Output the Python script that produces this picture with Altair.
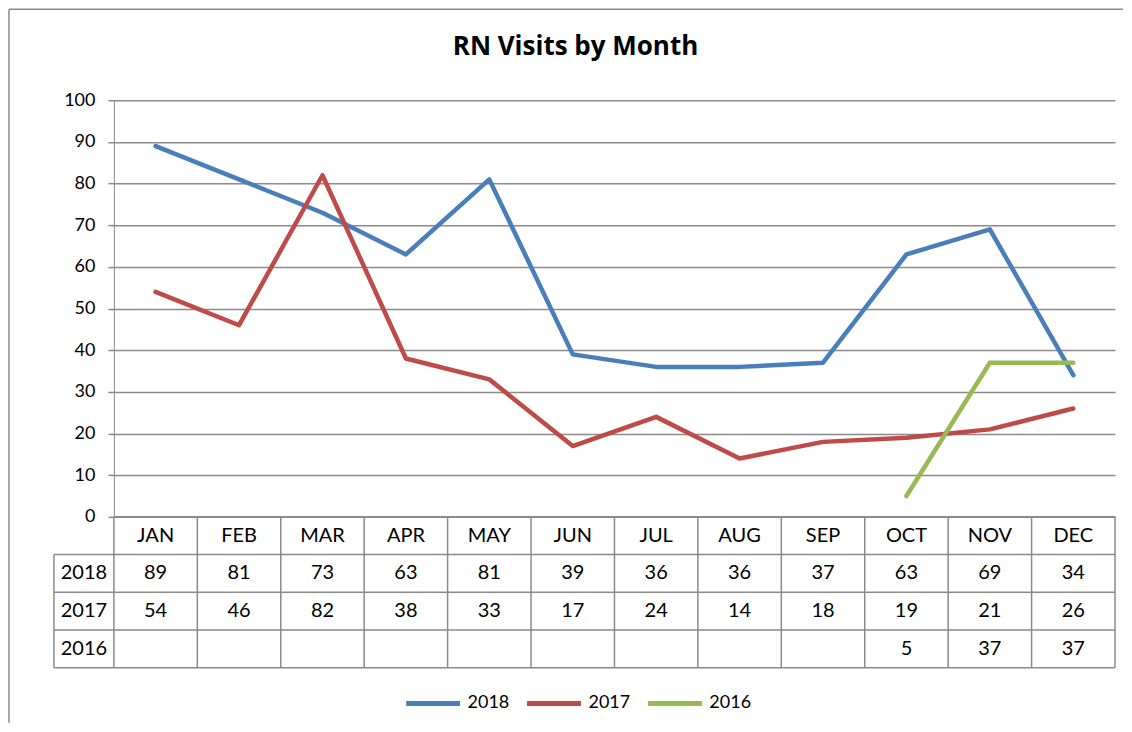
import altair as alt
import pandas as pd

# ---------------- data ----------------
months = ["JAN", "FEB", "MAR", "APR", "MAY", "JUN", "JUL", "AUG", "SEP", "OCT", "NOV", "DEC"]
v2018 = [89, 81, 73, 63, 81, 39, 36, 36, 37, 63, 69, 34]
v2017 = [54, 46, 82, 38, 33, 17, 24, 14, 18, 19, 21, 26]
v2016 = [None, None, None, None, None, None, None, None, None, 5, 37, 37]
series_names = ["2018", "2017", "2016"]
series_colors = ["#4A7EBB", "#BE4B48", "#98B954"]
y_ticks = [0, 10, 20, 30, 40, 50, 60, 70, 80, 90, 100]
chart_title = "RN Visits by Month"

values = {"2018": v2018, "2017": v2017, "2016": v2016}

# ---------------- styling constants ----------------
GRAY = "#8a8a8a"
FONT = "Lato"
W, H = 1002, 417
LABEL_COL = -1.2186  # left edge of the row-label column (month units)

line_rows = []
for s in series_names:
    for i, v in enumerate(values[s]):
        if v is not None:
            line_rows.append({"series": s, "m": i, "value": v})
line_df = pd.DataFrame(line_rows)

# table geometry in (month index, row index) units
h_rows = [{"r": 0, "x1": -0.5, "x2": 11.5}] + [
    {"r": r, "x1": LABEL_COL, "x2": 11.5} for r in range(1, len(series_names) + 2)
]
v_rows = [{"x": k - 0.5, "r1": 0, "r2": len(series_names) + 1} for k in range(len(months) + 1)]
v_rows.append({"x": LABEL_COL, "r1": 1, "r2": len(series_names) + 1})
text_rows = [{"x": i, "r": 0.5, "t": m} for i, m in enumerate(months)]
for j, s in enumerate(series_names):
    text_rows.append({"x": (LABEL_COL - 0.5) / 2, "r": j + 1.5, "t": s})
    for i, v in enumerate(values[s]):
        if v is not None:
            text_rows.append({"x": i, "r": j + 1.5, "t": str(v)})

h_df = pd.DataFrame(h_rows)
v_df = pd.DataFrame(v_rows)
t_df = pd.DataFrame(text_rows)

xscale = alt.Scale(domain=[-0.5, 11.5], nice=False, zero=False)
yscale = alt.Scale(domain=[0, 100], nice=False, zero=False)
tscale = alt.Scale(domain=[0, 4], range=[H, H + 151], nice=False, zero=False)

lines = alt.Chart(line_df).mark_line(strokeWidth=4.5, strokeJoin="round", strokeCap="round").encode(
    x=alt.X("m:Q", scale=xscale, axis=None),
    y=alt.Y(
        "value:Q",
        scale=yscale,
        axis=alt.Axis(
            values=y_ticks, grid=True, gridColor=GRAY, gridWidth=1.5, gridOpacity=1,
            domainColor=GRAY, domainWidth=1, tickColor=GRAY, tickWidth=1.5, tickSize=6,
            labelPadding=13, labelFontSize=18, labelFont=FONT, labelColor="black", title=None,
        ),
    ),
    color=alt.Color(
        "series:N",
        sort=series_names,
        scale=alt.Scale(domain=series_names, range=series_colors),
        legend=alt.Legend(
            orient="none", legendX=290, legendY=574, direction="horizontal", title=None,
            symbolType="stroke", symbolSize=2916, symbolStrokeWidth=5,
            labelFontSize=18, labelFont=FONT, labelColor="black", labelOffset=5,
            columnPadding=7,
        ),
    ),
    order=alt.Order("m:Q"),
)

hr = alt.Chart(h_df).mark_rule(color=GRAY, strokeWidth=1.5).encode(
    x=alt.X("x1:Q", scale=xscale, axis=None),
    x2="x2:Q",
    y=alt.Y("r:Q", scale=tscale, axis=None),
)
vr = alt.Chart(v_df).mark_rule(color=GRAY, strokeWidth=1.5).encode(
    x=alt.X("x:Q", scale=xscale, axis=None),
    y=alt.Y("r1:Q", scale=tscale, axis=None),
    y2="r2:Q",
)
tx = alt.Chart(t_df).mark_text(font=FONT, fontSize=20, color="black", baseline="middle", align="center").encode(
    x=alt.X("x:Q", scale=xscale, axis=None),
    y=alt.Y("r:Q", scale=tscale, axis=None),
    text="t:N",
)
table = alt.layer(hr, vr, tx)

title_df = pd.DataFrame({"t": [chart_title]})
title = alt.Chart(title_df).mark_text(
    font="Open Sans", fontSize=26, fontWeight="bold", color="black", baseline="middle", align="center"
).encode(text="t:N", x=alt.value(462), y=alt.value(-53))

frame_df = pd.DataFrame({"k": [0]})
frame_top = alt.Chart(frame_df).mark_rule(color=GRAY, strokeWidth=1.5).encode(
    x=alt.value(-105), x2=alt.value(1010), y=alt.value(-91)
)
frame_left = alt.Chart(frame_df).mark_rule(color=GRAY, strokeWidth=1.5).encode(
    x=alt.value(-105), y=alt.value(-91), y2=alt.value(623)
)

chart = (
    alt.layer(frame_top, frame_left, title, lines, table)
    .resolve_scale(y="independent")
    .properties(width=W, height=H, padding=0, background="white")
    .configure_view(stroke=None)
)

chart.save("out.html", embed_options={"renderer": "svg", "actions": False})
